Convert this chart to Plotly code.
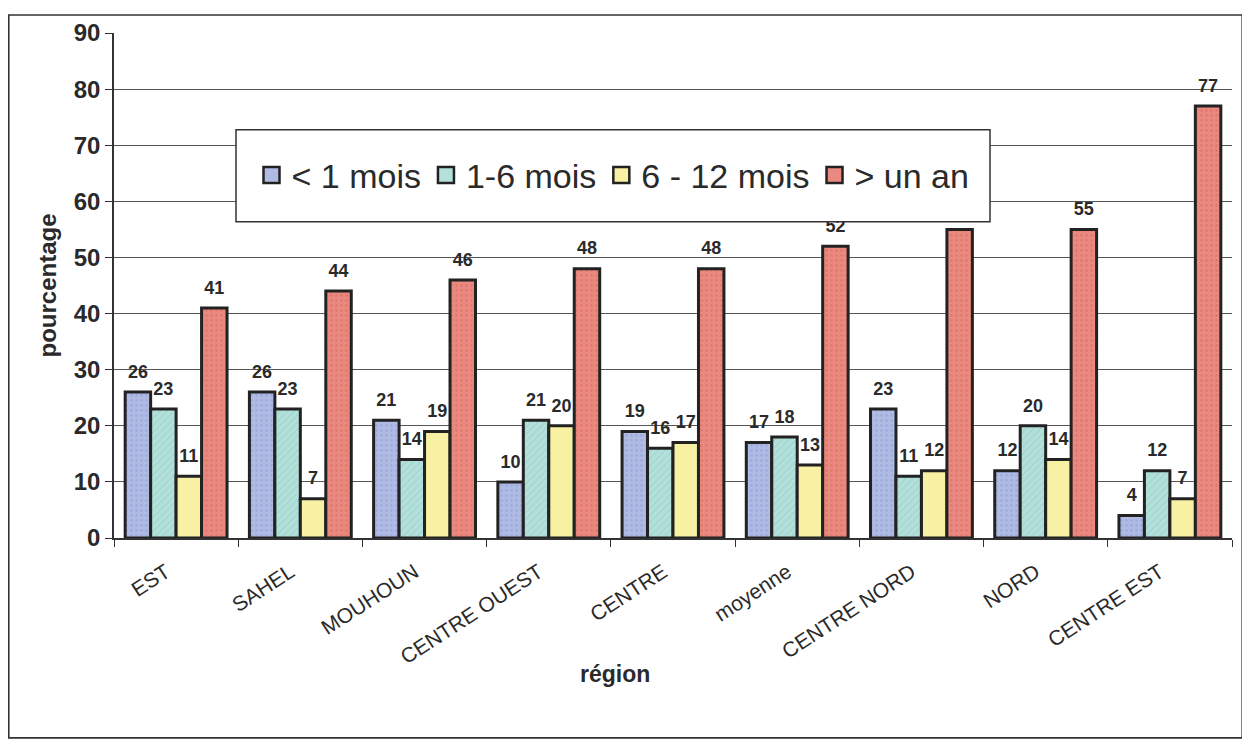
import plotly.graph_objects as go

# Données
regions = ["EST", "SAHEL", "MOUHOUN", "CENTRE OUEST", "CENTRE", "moyenne",
           "CENTRE NORD", "NORD", "CENTRE EST"]
moins_1_mois = [26, 26, 21, 10, 19, 17, 23, 12, 4]
de_1_a_6_mois = [23, 23, 14, 21, 16, 18, 11, 20, 12]
de_6_a_12_mois = [11, 7, 19, 20, 17, 13, 12, 14, 7]
plus_un_an = [41, 44, 46, 48, 48, 52, 55, 55, 77]

series_names = ["< 1 mois", "1-6 mois", "6 - 12 mois", "> un an"]
series_values = [moins_1_mois, de_1_a_6_mois, de_6_a_12_mois, plus_un_an]
series_colors = ["#b0bbe4", "#b3e0da", "#f8f1a4", "#ea897f"]
series_patterns = [(".", "#8d9bd4"), ("/", "#8ecbc4"), ("", "#f8f1a4"), (".", "#d96a60")]

W, H = 1235, 733
L, R, T, B = 106, 11, 19, 203
pw, ph = W - L - R, H - T - B


def px_x(x):
    return (x - L) / pw


def px_y(y):
    return (H - B - y) / ph


fig = go.Figure()
for i, (name, vals, col, (shp, fg)) in enumerate(
        zip(series_names, series_values, series_colors, series_patterns)):
    fig.add_trace(go.Bar(
        x=regions, y=vals, name=name, showlegend=False, offsetgroup=str(i),
        marker=dict(color=col, line=dict(color="#222", width=3),
                    pattern=dict(shape=shp, fgcolor=fg, size=5, solidity=0.25)),
    ))
for i, (name, vals, col) in enumerate(zip(series_names, series_values, series_colors)):
    # étiquettes de valeurs, un peu au-dessus des barres
    fig.add_trace(go.Scatter(
        x=regions, y=vals, mode="markers+text", showlegend=False, offsetgroup=str(i),
        marker=dict(size=14, opacity=0), cliponaxis=False,
        text=[f"<b>{v}</b>" for v in vals], textposition="top center",
        textfont=dict(family="Arial", size=18, color="#2a2a2a"), hoverinfo="skip",
    ))
for name, col in zip(series_names, series_colors):
    # entrée de légende avec un carré plus grand
    fig.add_trace(go.Scatter(
        x=[None], y=[None], mode="markers", name=name,
        marker=dict(symbol="square", size=20, color=col, line=dict(color="#222", width=2.5)),
    ))

# cadre extérieur
fig.add_shape(type="rect", xref="paper", yref="paper",
              x0=px_x(0.8), x1=px_x(W - 0.8), y0=px_y(H - 0.8), y1=px_y(0.8),
              line=dict(color="#333", width=1.6), fillcolor="rgba(0,0,0,0)")
# boîte de légende
fig.add_shape(type="rect", xref="paper", yref="paper", layer="above",
              x0=px_x(228), x1=px_x(982), y0=px_y(210), y1=px_y(117),
              line=dict(color="#333", width=1.5), fillcolor="white")

fig.add_annotation(text="<b>région</b>", xref="paper", yref="paper",
                   x=px_x(607), y=px_y(668), xanchor="center", yanchor="middle",
                   showarrow=False,
                   font=dict(family="Arial", size=23, color="#2a2a2a"))

fig.update_layout(
    width=W, height=H,
    margin=dict(l=L, r=R, t=T, b=B),
    paper_bgcolor="white", plot_bgcolor="white",
    barmode="group", bargap=0.18, bargroupgap=0,
    scattermode="group", scattergap=0.18,
    font=dict(family="Arial", color="#2a2a2a"),
    showlegend=True,
    legend=dict(orientation="h", x=px_x(605), y=px_y(163), xanchor="center", yanchor="middle",
                bgcolor="rgba(0,0,0,0)", borderwidth=0,
                font=dict(family="Arial", size=34, color="#2a2a2a"),
                itemwidth=30, traceorder="normal"),
    xaxis=dict(
        showline=True, linecolor="#333", linewidth=1.5,
        ticks="outside", tickson="boundaries", ticklen=7, tickcolor="#333",
        tickangle=-33, tickfont=dict(family="Arial", size=21, color="#2a2a2a"),
        ticklabelstandoff=12, ticklabelshift=-10,
    ),
    yaxis=dict(
        range=[0, 90], dtick=10,
        showline=True, linecolor="#333", linewidth=1.5,
        showgrid=True, gridcolor="#555", gridwidth=1,
        ticks="outside", ticklen=7, tickcolor="#333",
        tickfont=dict(family="Arial", size=24, color="#2a2a2a"),
        tickprefix="<b>", ticksuffix="</b>",
        title=dict(text="<b>pourcentage</b>", font=dict(family="Arial", size=24), standoff=10),
    ),
)

fig.write_html("out.html")
